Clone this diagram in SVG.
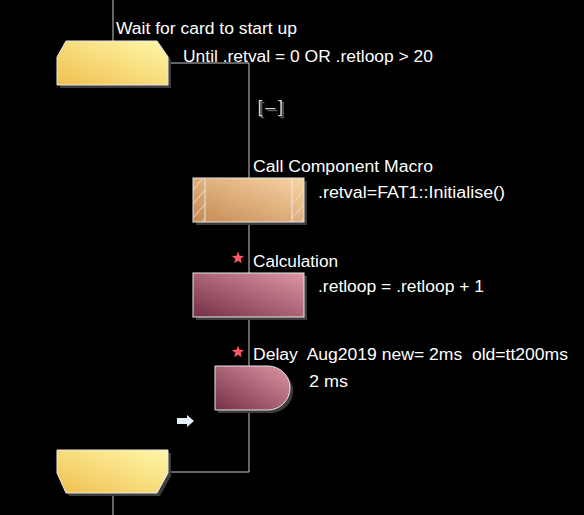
<svg xmlns="http://www.w3.org/2000/svg" width="584" height="515" viewBox="0 0 584 515">
<style>
.t{font-family:"Liberation Sans",Arial,sans-serif;font-size:16px;fill:#ffffff;white-space:pre}
.ln{stroke:#c8c8c8;stroke-width:1;fill:none}
.sh{fill:#3c3c3c}
.bd{stroke:#e8e8e8;stroke-width:1}
.hatch{stroke:#f4dcc0;stroke-width:1}
</style>
<defs>
<linearGradient id="gY" x1="0" y1="1" x2="1" y2="0"><stop offset="0" stop-color="#f0c050"/><stop offset="1" stop-color="#fff8aa"/></linearGradient>
<linearGradient id="gC" x1="0" y1="1" x2="1" y2="0"><stop offset="0" stop-color="#c48a55"/><stop offset="1" stop-color="#f8d4a4"/></linearGradient>
<linearGradient id="gP" x1="0" y1="1" x2="1" y2="0"><stop offset="0" stop-color="#763046"/><stop offset="1" stop-color="#dc96a4"/></linearGradient>
<path id="star" d="M0,-6.5 L1.6,-2.2 L6.2,-2 L2.6,0.85 L3.8,5.25 L0,2.75 L-3.8,5.25 L-2.6,0.85 L-6.2,-2 L-1.6,-2.2 Z" fill="#ff5a64"/>
<filter id="ds" x="-20%" y="-20%" width="140%" height="140%"><feDropShadow dx="2" dy="2" stdDeviation="0" flood-color="#555"/></filter>
<clipPath id="cl"><rect x="193" y="178" width="12" height="44"/></clipPath>
<clipPath id="cr"><rect x="292" y="178" width="12" height="44"/></clipPath>
</defs>
<rect width="584" height="515" fill="#000000"/>

<g id="connectors">
<line class="ln" x1="113" y1="0" x2="113" y2="41"/>
<polyline class="ln" points="168,63 249,63 249,472 168,472"/>
<line class="ln" x1="113" y1="493" x2="113" y2="515"/>
</g>

<g id="loop-start">
<polygon class="sh" points="69,44 160,44 171,60 171,88 60,88 60,60"/>
<polygon points="66,41 157,41 168,57 168,85 57,85 57,57" fill="url(#gY)" class="bd"/>
<text class="t" x="116" y="34" textLength="181" lengthAdjust="spacingAndGlyphs">Wait for card to start up</text>
<text class="t" x="183" y="62" textLength="250" lengthAdjust="spacingAndGlyphs">Until .retval = 0 OR .retloop &gt; 20</text>
</g>

<g id="collapse">
<text x="255" y="114" font-family="'DejaVu Sans Mono',monospace" font-size="17" fill="#cfcfcf" filter="url(#ds)">[–]</text>
</g>

<g id="call-macro">
<rect class="sh" x="196" y="181" width="111" height="44"/>
<rect x="193" y="178" width="111" height="44" fill="url(#gC)" class="bd"/>
<g clip-path="url(#cl)" class="hatch">
<line x1="193" y1="190" x2="205" y2="176"/><line x1="193" y1="204" x2="205" y2="190"/><line x1="193" y1="218" x2="205" y2="204"/><line x1="193" y1="232" x2="205" y2="218"/>
</g>
<g clip-path="url(#cr)" class="hatch">
<line x1="292" y1="190" x2="304" y2="176"/><line x1="292" y1="204" x2="304" y2="190"/><line x1="292" y1="218" x2="304" y2="204"/><line x1="292" y1="232" x2="304" y2="218"/>
</g>
<line x1="205" y1="178" x2="205" y2="222" class="bd"/>
<line x1="292" y1="178" x2="292" y2="222" class="bd"/>
<text class="t" x="253" y="172" textLength="180" lengthAdjust="spacingAndGlyphs">Call Component Macro</text>
<text class="t" x="318" y="198" textLength="187" lengthAdjust="spacingAndGlyphs">.retval=FAT1::Initialise()</text>
</g>

<g id="calculation">
<rect class="sh" x="196" y="276" width="111" height="44"/>
<rect x="193" y="273" width="111" height="44" fill="url(#gP)" class="bd"/>
<use href="#star" x="238" y="258"/>
<text class="t" x="253" y="267" textLength="85" lengthAdjust="spacingAndGlyphs">Calculation</text>
<text class="t" x="318" y="292" textLength="166" lengthAdjust="spacingAndGlyphs">.retloop = .retloop + 1</text>
</g>

<g id="delay">
<path class="sh" d="M218,369 H271 A22,22 0 0 1 271,413 H218 Z"/>
<path d="M215,366 H268 A22,22 0 0 1 268,410 H215 Z" fill="url(#gP)" class="bd"/>
<use href="#star" x="238" y="352"/>
<text class="t" x="253" y="360" textLength="315" lengthAdjust="spacingAndGlyphs">Delay  Aug2019 new= 2ms  old=tt200ms</text>
<text class="t" x="309" y="387" textLength="39" lengthAdjust="spacingAndGlyphs">2 ms</text>
</g>

<g id="arrow-icon">
<polygon points="177,418 187,418 187,415 194,421 187,427 187,424 177,424" fill="#e4f0fc"/>
</g>

<g id="loop-end">
<polygon class="sh" points="60,453 171,453 171,476 160,496 69,496 60,476"/>
<polygon points="57,450 168,450 168,473 157,493 66,493 57,473" fill="url(#gY)" class="bd"/>
</g>
</svg>
